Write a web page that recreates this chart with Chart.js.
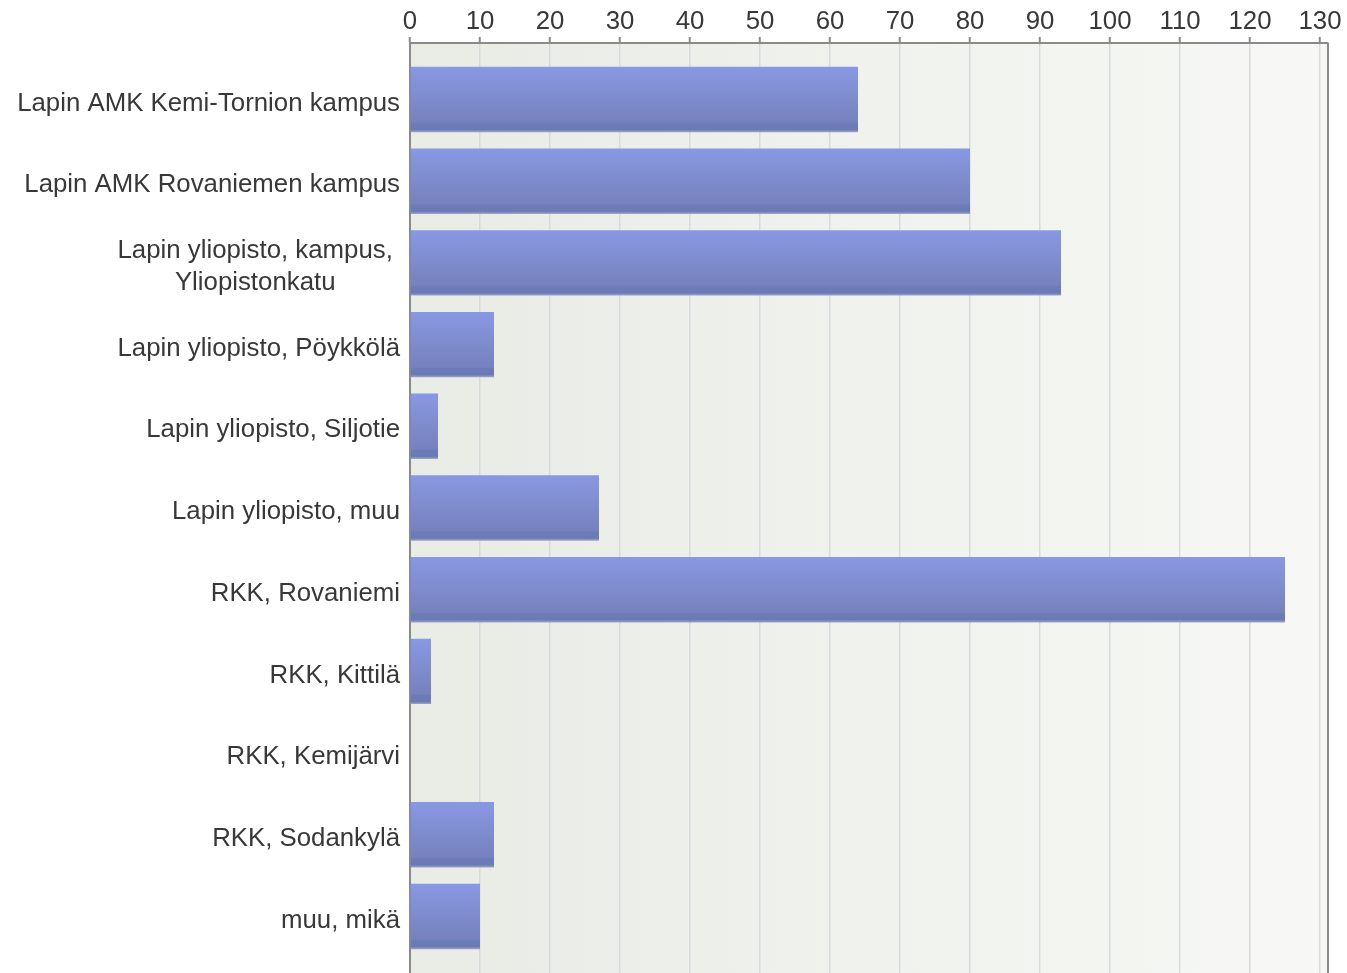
<!DOCTYPE html>
<html>
<head>
<meta charset="utf-8">
<script src="https://cdn.jsdelivr.net/npm/chart.js@4/dist/chart.umd.min.js"></script>
<style>
  html, body { margin: 0; padding: 0; background: #ffffff; }
  #wrap { width: 1347px; height: 973px; position: relative; }
</style>
</head>
<body>
<div id="wrap"><canvas id="c"></canvas></div>
<script>
// ---- data ----
const categories = [
  "Lapin AMK Kemi-Tornion kampus",
  "Lapin AMK Rovaniemen kampus",
  ["Lapin yliopisto, kampus, ", "Yliopistonkatu"],
  "Lapin yliopisto, Pöykkölä",
  "Lapin yliopisto, Siljotie",
  "Lapin yliopisto, muu",
  "RKK, Rovaniemi",
  "RKK, Kittilä",
  "RKK, Kemijärvi",
  "RKK, Sodankylä",
  "muu, mikä"
];
const values = [64, 80, 93, 12, 4, 27, 125, 3, 0, 12, 10];
const xTicks = [0, 10, 20, 30, 40, 50, 60, 70, 80, 90, 100, 110, 120, 130];

// ---- style ----
const FONT_FAMILY = "'Liberation Sans', Arial, sans-serif";
const FONT_SIZE = 25.8;
const TEXT_COLOR = '#383838';
const AXIS_COLOR = '#8a8a8a';

function centerLines(lines) {
  const c = document.createElement('canvas').getContext('2d');
  c.font = FONT_SIZE + 'px ' + FONT_FAMILY;
  const w = lines.map(l => c.measureText(l).width);
  const maxW = Math.max(...w);
  const sp = c.measureText(' ').width;
  return lines.map((l, i) => l + ' '.repeat(Math.round((maxW - w[i]) / 2 / sp)));
}

const bgPlugin = {
  id: 'bgPlugin',
  beforeDraw(chart) {
    const { ctx, chartArea: a } = chart;
    const g = ctx.createLinearGradient(a.left, 0, a.right, 0);
    g.addColorStop(0, '#e8ece5');
    g.addColorStop(1, '#f7f8f5');
    ctx.save();
    ctx.fillStyle = g;
    ctx.fillRect(a.left, a.top, a.right - a.left, a.bottom - a.top);
    ctx.restore();
  },
  beforeDatasetsDraw(chart) {
    const { ctx } = chart;
    chart.getDatasetMeta(0).data.forEach(el => {
      const p = el.getProps(['y', 'height'], true);
      const top = p.y - p.height / 2, bot = p.y + p.height / 2;
      const g = ctx.createLinearGradient(0, top, 0, bot);
      g.addColorStop(0, '#8898e4');
      g.addColorStop(0.5, '#7e8bcc');
      g.addColorStop(0.84, '#7682be');
      g.addColorStop(0.87, '#6c7cb9');
      g.addColorStop(0.96, '#6b7ab5');
      g.addColorStop(1, '#a0a6c6');
      el.options.backgroundColor = g;
    });
  },
  afterDraw(chart) {
    const { ctx, chartArea: a } = chart;
    ctx.save();
    ctx.strokeStyle = AXIS_COLOR;
    ctx.lineWidth = 2;
    ctx.beginPath();
    ctx.moveTo(a.right, a.top);
    ctx.lineTo(a.right, a.bottom);
    ctx.stroke();
    ctx.restore();
  }
};

new Chart(document.getElementById('c'), {
  type: 'bar',
  data: {
    datasets: [{
      data: values.map((v, i) => ({ x: v, y: i })),
      backgroundColor: () => '#7e8bcc',
      borderWidth: 0,
      barPercentage: 0.8,
      categoryPercentage: 1.0
    }]
  },
  options: {
    indexAxis: 'y',
    responsive: true,
    maintainAspectRatio: false,
    animation: false,
    layout: { padding: { left: 0, top: 0, right: 19, bottom: 0 } },
    plugins: { legend: { display: false }, tooltip: { enabled: false } },
    scales: {
      x: {
        type: 'linear',
        position: 'top',
        min: 0,
        max: 131.14,
        afterBuildTicks(scale) { scale.ticks = xTicks.map(v => ({ value: v })); },
        afterFit(scale) { scale.height = 43; },
        ticks: {
          color: TEXT_COLOR,
          font: { family: FONT_FAMILY, size: FONT_SIZE },
          padding: 0,
          maxRotation: 0,
          autoSkip: false
        },
        grid: {
          color: '#d9dade',
          lineWidth: 1.5,
          drawTicks: true,
          tickLength: 6,
          tickColor: AXIS_COLOR,
          tickWidth: 2
        },
        border: { display: true, color: AXIS_COLOR, width: 2 }
      },
      y: {
        type: 'linear',
        reverse: true,
        offset: false,
        bounds: 'data',
        min: -0.6916,
        max: 10.6916,
        afterBuildTicks(scale) { scale.ticks = categories.map((_, i) => ({ value: i })); },
        afterFit(scale) {
          scale.width = 410;
          scale.paddingTop = 0;
          scale.paddingBottom = 0;
        },
        ticks: {
          color: TEXT_COLOR,
          font: { family: FONT_FAMILY, size: FONT_SIZE, lineHeight: 1.25 },
          padding: 10,
          labelOffset: 4,
          autoSkip: false,
          callback(v) {
            const c = categories[v];
            return Array.isArray(c) ? centerLines(c) : c;
          }
        },
        grid: { display: false, drawTicks: false, offset: false },
        border: { display: true, color: AXIS_COLOR, width: 2 }
      }
    }
  },
  plugins: [bgPlugin]
});
</script>
</body>
</html>
